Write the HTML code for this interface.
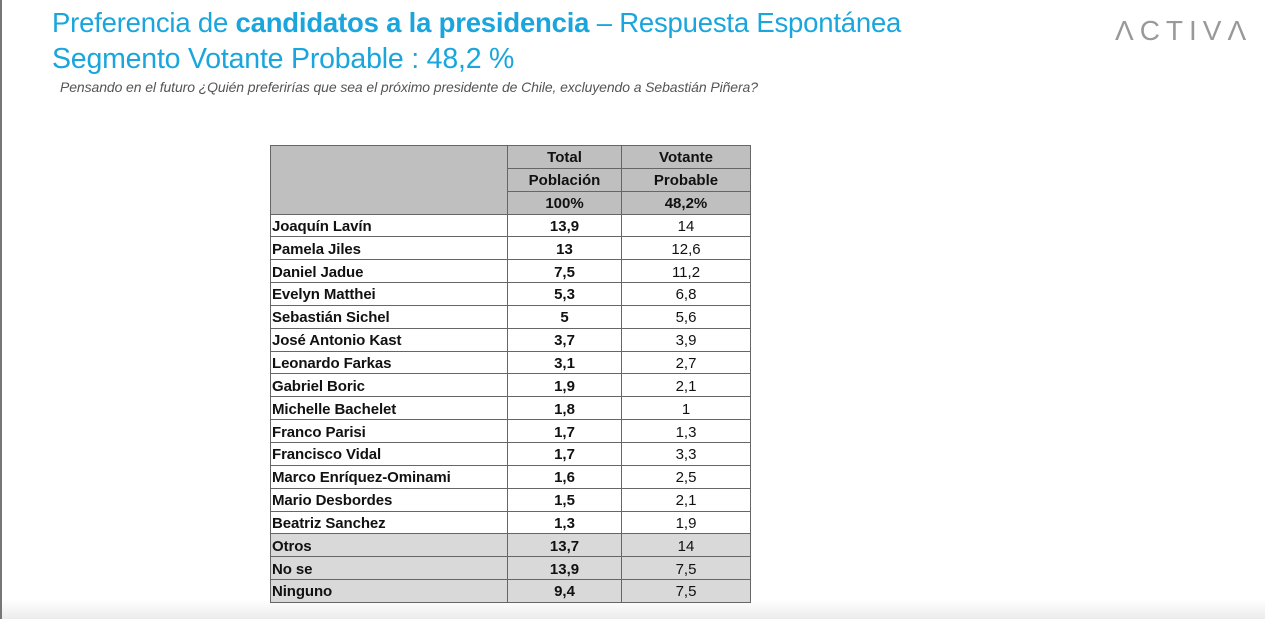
<!DOCTYPE html>
<html><head><meta charset="utf-8"><style>
body{margin:0;width:1265px;height:619px;background:#fff;position:relative;overflow:hidden;font-family:"Liberation Sans",sans-serif}
.lb{position:absolute;left:0;top:0;width:2px;height:619px;background:#777;z-index:2}
.sh{position:absolute;left:0;top:600px;width:1265px;height:19px;background:linear-gradient(#fff,#ececec)}
.t1{position:absolute;left:52px;top:7px;font-size:27.5px;color:#1aa6dc;white-space:nowrap;letter-spacing:-0.2px}
.t2{position:absolute;left:52px;top:43px;font-size:28.5px;color:#1aa6dc;white-space:nowrap;letter-spacing:-0.2px}
.q{position:absolute;left:60px;top:79px;font-size:14px;font-style:italic;color:#555;white-space:nowrap;letter-spacing:-0.1px}
.logo{position:absolute;left:1115px;top:15px;font-size:28px;color:#999;letter-spacing:6px}
table{position:absolute;left:270px;top:145px;border-collapse:collapse;font-size:15px;color:#111}
td{border:1px solid #666;height:22.85px;padding:3px 0 0 0;line-height:18px;box-sizing:border-box}
td.n{width:237px;font-weight:bold;padding-left:1px;letter-spacing:-0.1px}
td.a{width:114px;text-align:center;font-weight:bold}
td.b{width:129px;text-align:center}
.h td{background:#bfbfbf;font-weight:bold;text-align:center}
.g td{background:#d9d9d9}
</style></head><body>
<div class="lb"></div><div class="sh"></div>
<div class="t1">Preferencia de <b>candidatos a la presidencia</b> – Respuesta Espontánea</div>
<div class="t2">Segmento Votante Probable : 48,2 %</div>
<div class="q">Pensando en el futuro ¿Quién preferirías que sea el próximo presidente de Chile, excluyendo a Sebastián Piñera?</div>
<div class="logo">ΛCTIVΛ</div>
<table>
<tr class="h"><td class="n" rowspan="3"></td><td class="a">Total</td><td class="b">Votante</td></tr>
<tr class="h"><td class="a">Población</td><td class="b">Probable</td></tr>
<tr class="h"><td class="a">100%</td><td class="b">48,2%</td></tr>
<tr><td class="n">Joaquín Lavín</td><td class="a">13,9</td><td class="b">14</td></tr>
<tr><td class="n">Pamela Jiles</td><td class="a">13</td><td class="b">12,6</td></tr>
<tr><td class="n">Daniel Jadue</td><td class="a">7,5</td><td class="b">11,2</td></tr>
<tr><td class="n">Evelyn Matthei</td><td class="a">5,3</td><td class="b">6,8</td></tr>
<tr><td class="n">Sebastián Sichel</td><td class="a">5</td><td class="b">5,6</td></tr>
<tr><td class="n">José Antonio Kast</td><td class="a">3,7</td><td class="b">3,9</td></tr>
<tr><td class="n">Leonardo Farkas</td><td class="a">3,1</td><td class="b">2,7</td></tr>
<tr><td class="n">Gabriel Boric</td><td class="a">1,9</td><td class="b">2,1</td></tr>
<tr><td class="n">Michelle Bachelet</td><td class="a">1,8</td><td class="b">1</td></tr>
<tr><td class="n">Franco Parisi</td><td class="a">1,7</td><td class="b">1,3</td></tr>
<tr><td class="n">Francisco Vidal</td><td class="a">1,7</td><td class="b">3,3</td></tr>
<tr><td class="n">Marco Enríquez-Ominami</td><td class="a">1,6</td><td class="b">2,5</td></tr>
<tr><td class="n">Mario Desbordes</td><td class="a">1,5</td><td class="b">2,1</td></tr>
<tr><td class="n">Beatriz Sanchez</td><td class="a">1,3</td><td class="b">1,9</td></tr>
<tr class="g"><td class="n">Otros</td><td class="a">13,7</td><td class="b">14</td></tr>
<tr class="g"><td class="n">No se</td><td class="a">13,9</td><td class="b">7,5</td></tr>
<tr class="g"><td class="n">Ninguno</td><td class="a">9,4</td><td class="b">7,5</td></tr>
</table>
</body></html>
